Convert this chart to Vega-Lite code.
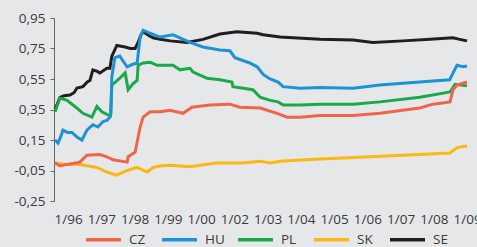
{
  "$schema": "https://vega.github.io/schema/vega-lite/v6.json",
  "autosize": {"type": "none"},
  "padding": {"left": 54, "top": 18, "right": 9, "bottom": 46},
  "width": 414,
  "height": 183,
  "background": "#e6e7e8",
  "config": {"view": {"stroke": null}, "font": "Open Sans"},
  "datasets": {
    "series": [
      {"s":"SE","t":0.03,"v":0.35},{"s":"SE","t":0.18,"v":0.43},{"s":"SE","t":0.3,"v":0.44},{"s":"SE","t":0.48,"v":0.445},{"s":"SE","t":0.6,"v":0.46},{"s":"SE","t":0.69,"v":0.49},{"s":"SE","t":0.87,"v":0.5},{"s":"SE","t":1.0,"v":0.53},{"s":"SE","t":1.08,"v":0.54},{"s":"SE","t":1.17,"v":0.61},{"s":"SE","t":1.3,"v":0.6},{"s":"SE","t":1.38,"v":0.59},{"s":"SE","t":1.59,"v":0.62},{"s":"SE","t":1.68,"v":0.62},{"s":"SE","t":1.74,"v":0.7},{"s":"SE","t":1.89,"v":0.77},{"s":"SE","t":2.14,"v":0.76},{"s":"SE","t":2.29,"v":0.75},{"s":"SE","t":2.44,"v":0.75},{"s":"SE","t":2.53,"v":0.79},{"s":"SE","t":2.62,"v":0.84},{"s":"SE","t":2.68,"v":0.86},{"s":"SE","t":2.89,"v":0.83},{"s":"SE","t":2.98,"v":0.82},{"s":"SE","t":3.19,"v":0.81},{"s":"SE","t":3.5,"v":0.8},{"s":"SE","t":4.0,"v":0.79},{"s":"SE","t":4.48,"v":0.81},{"s":"SE","t":4.99,"v":0.845},{"s":"SE","t":5.5,"v":0.86},{"s":"SE","t":6.11,"v":0.85},{"s":"SE","t":6.29,"v":0.84},{"s":"SE","t":6.8,"v":0.825},{"s":"SE","t":7.19,"v":0.82},{"s":"SE","t":8.0,"v":0.81},{"s":"SE","t":9.0,"v":0.805},{"s":"SE","t":9.59,"v":0.79},{"s":"SE","t":10.5,"v":0.8},{"s":"SE","t":11.31,"v":0.81},{"s":"SE","t":12.0,"v":0.82},{"s":"SE","t":12.2,"v":0.81},{"s":"SE","t":12.42,"v":0.8},
      {"s":"SK","t":0.03,"v":0.0},{"s":"SK","t":0.39,"v":-0.01},{"s":"SK","t":0.78,"v":-0.01},{"s":"SK","t":1.29,"v":-0.03},{"s":"SK","t":1.59,"v":-0.06},{"s":"SK","t":1.89,"v":-0.08},{"s":"SK","t":2.2,"v":-0.05},{"s":"SK","t":2.5,"v":-0.03},{"s":"SK","t":2.8,"v":-0.06},{"s":"SK","t":2.98,"v":-0.03},{"s":"SK","t":3.19,"v":-0.02},{"s":"SK","t":3.49,"v":-0.015},{"s":"SK","t":4.09,"v":-0.025},{"s":"SK","t":4.9,"v":0.0},{"s":"SK","t":5.68,"v":0.0},{"s":"SK","t":6.2,"v":0.01},{"s":"SK","t":6.5,"v":0.0},{"s":"SK","t":6.8,"v":0.01},{"s":"SK","t":8.0,"v":0.025},{"s":"SK","t":9.5,"v":0.04},{"s":"SK","t":11.0,"v":0.055},{"s":"SK","t":11.91,"v":0.065},{"s":"SK","t":12.12,"v":0.1},{"s":"SK","t":12.42,"v":0.11},
      {"s":"PL","t":0.03,"v":0.335},{"s":"PL","t":0.18,"v":0.425},{"s":"PL","t":0.39,"v":0.41},{"s":"PL","t":0.63,"v":0.37},{"s":"PL","t":0.87,"v":0.325},{"s":"PL","t":1.14,"v":0.3},{"s":"PL","t":1.29,"v":0.37},{"s":"PL","t":1.44,"v":0.335},{"s":"PL","t":1.62,"v":0.315},{"s":"PL","t":1.7,"v":0.31},{"s":"PL","t":1.74,"v":0.51},{"s":"PL","t":1.98,"v":0.555},{"s":"PL","t":2.14,"v":0.59},{"s":"PL","t":2.23,"v":0.48},{"s":"PL","t":2.38,"v":0.52},{"s":"PL","t":2.5,"v":0.54},{"s":"PL","t":2.53,"v":0.64},{"s":"PL","t":2.68,"v":0.655},{"s":"PL","t":2.89,"v":0.66},{"s":"PL","t":3.1,"v":0.64},{"s":"PL","t":3.58,"v":0.64},{"s":"PL","t":3.79,"v":0.61},{"s":"PL","t":4.09,"v":0.62},{"s":"PL","t":4.18,"v":0.595},{"s":"PL","t":4.6,"v":0.555},{"s":"PL","t":4.99,"v":0.545},{"s":"PL","t":5.35,"v":0.53},{"s":"PL","t":5.38,"v":0.5},{"s":"PL","t":5.98,"v":0.48},{"s":"PL","t":6.2,"v":0.43},{"s":"PL","t":6.5,"v":0.41},{"s":"PL","t":6.74,"v":0.4},{"s":"PL","t":6.89,"v":0.38},{"s":"PL","t":7.4,"v":0.38},{"s":"PL","t":8.0,"v":0.385},{"s":"PL","t":9.0,"v":0.385},{"s":"PL","t":9.8,"v":0.4},{"s":"PL","t":11.0,"v":0.43},{"s":"PL","t":11.91,"v":0.465},{"s":"PL","t":12.06,"v":0.515},{"s":"PL","t":12.42,"v":0.505},
      {"s":"CZ","t":0.03,"v":0.0},{"s":"CZ","t":0.18,"v":-0.02},{"s":"CZ","t":0.39,"v":-0.01},{"s":"CZ","t":0.78,"v":0.005},{"s":"CZ","t":0.99,"v":0.05},{"s":"CZ","t":1.38,"v":0.055},{"s":"CZ","t":1.59,"v":0.04},{"s":"CZ","t":1.77,"v":0.02},{"s":"CZ","t":2.2,"v":0.005},{"s":"CZ","t":2.23,"v":0.04},{"s":"CZ","t":2.44,"v":0.07},{"s":"CZ","t":2.59,"v":0.235},{"s":"CZ","t":2.68,"v":0.3},{"s":"CZ","t":2.89,"v":0.335},{"s":"CZ","t":3.19,"v":0.335},{"s":"CZ","t":3.49,"v":0.345},{"s":"CZ","t":3.88,"v":0.325},{"s":"CZ","t":4.15,"v":0.365},{"s":"CZ","t":4.69,"v":0.38},{"s":"CZ","t":5.29,"v":0.385},{"s":"CZ","t":5.59,"v":0.365},{"s":"CZ","t":6.2,"v":0.36},{"s":"CZ","t":6.71,"v":0.325},{"s":"CZ","t":7.01,"v":0.3},{"s":"CZ","t":7.4,"v":0.3},{"s":"CZ","t":8.0,"v":0.31},{"s":"CZ","t":9.0,"v":0.31},{"s":"CZ","t":9.8,"v":0.325},{"s":"CZ","t":11.0,"v":0.36},{"s":"CZ","t":11.4,"v":0.385},{"s":"CZ","t":11.91,"v":0.4},{"s":"CZ","t":12.0,"v":0.48},{"s":"CZ","t":12.12,"v":0.51},{"s":"CZ","t":12.42,"v":0.53},
      {"s":"HU","t":0.03,"v":0.15},{"s":"HU","t":0.12,"v":0.13},{"s":"HU","t":0.2,"v":0.17},{"s":"HU","t":0.27,"v":0.215},{"s":"HU","t":0.4,"v":0.2},{"s":"HU","t":0.54,"v":0.2},{"s":"HU","t":0.69,"v":0.17},{"s":"HU","t":0.84,"v":0.15},{"s":"HU","t":0.99,"v":0.215},{"s":"HU","t":1.17,"v":0.25},{"s":"HU","t":1.32,"v":0.235},{"s":"HU","t":1.47,"v":0.27},{"s":"HU","t":1.6,"v":0.28},{"s":"HU","t":1.68,"v":0.3},{"s":"HU","t":1.71,"v":0.32},{"s":"HU","t":1.74,"v":0.565},{"s":"HU","t":1.83,"v":0.69},{"s":"HU","t":1.98,"v":0.7},{"s":"HU","t":2.1,"v":0.66},{"s":"HU","t":2.2,"v":0.63},{"s":"HU","t":2.35,"v":0.645},{"s":"HU","t":2.5,"v":0.655},{"s":"HU","t":2.59,"v":0.825},{"s":"HU","t":2.68,"v":0.87},{"s":"HU","t":2.89,"v":0.85},{"s":"HU","t":3.19,"v":0.825},{"s":"HU","t":3.58,"v":0.84},{"s":"HU","t":4.09,"v":0.79},{"s":"HU","t":4.48,"v":0.76},{"s":"HU","t":4.99,"v":0.74},{"s":"HU","t":5.29,"v":0.735},{"s":"HU","t":5.44,"v":0.69},{"s":"HU","t":5.89,"v":0.655},{"s":"HU","t":6.11,"v":0.63},{"s":"HU","t":6.29,"v":0.58},{"s":"HU","t":6.5,"v":0.55},{"s":"HU","t":6.74,"v":0.53},{"s":"HU","t":6.89,"v":0.5},{"s":"HU","t":7.4,"v":0.49},{"s":"HU","t":8.0,"v":0.495},{"s":"HU","t":9.0,"v":0.49},{"s":"HU","t":9.8,"v":0.51},{"s":"HU","t":11.0,"v":0.53},{"s":"HU","t":11.9,"v":0.545},{"s":"HU","t":12.0,"v":0.59},{"s":"HU","t":12.12,"v":0.64},{"s":"HU","t":12.3,"v":0.63},{"s":"HU","t":12.42,"v":0.635}
    ]
  },
  "encoding": {
    "x": {"field": "t", "type": "quantitative", "scale": {"domain": [0, 12.45], "nice": false, "zero": false},
      "axis": {"title": null, "values": [0,1,2,3,4,5,6,7,8,9,10,11,12], "domain": false, "ticks": false, "grid": false, "labelAlign": "left", "labelPadding": 11, "labelFontSize": 13.5, "labelColor": "#3a3a3a", "labelOverlap": false, "labelBound": false, "labelFlush": false,
        "labelExpr": "['1/96','1/97','1/98','1/99','1/00','1/02','1/03','1/04','1/05','1/06','1/07','1/08','1/09'][datum.value]"}},
    "y": {"field": "v", "type": "quantitative", "scale": {"domain": [-0.25, 0.95], "nice": false, "zero": false},
      "axis": {"title": null, "values": [-0.25,-0.05,0.15,0.35,0.55,0.75,0.95], "grid": false, "domainColor": "#666666", "tickColor": "#666666", "tickSize": 4, "labelPadding": 5, "labelFontSize": 13.5, "labelColor": "#3a3a3a",
        "labelExpr": "(datum.value < 0 ? '-' : '') + replace(format(abs(datum.value), '.2f'), '.', ',')"}},
    "color": {"field": "s", "type": "nominal",
      "scale": {"domain": ["CZ","HU","PL","SK","SE"], "range": ["#f0654a","#1b93d5","#19a94b","#fbb714","#221e1f"]},
      "legend": {"title": null, "orient": "none", "direction": "horizontal", "columns": 5, "gridAlign": "all", "columnPadding": 6, "legendX": 30, "legendY": 202, "padding": 0, "symbolType": "stroke", "symbolSize": 1225, "symbolStrokeWidth": 3.5, "labelFontSize": 13.5, "labelBaseline": "middle", "labelColor": "#3a3a3a", "labelOffset": 6}}
  },
  "layer": [
    {"mark": {"type": "rule", "color": "#7a7a7a", "strokeWidth": 1.5}, "encoding": {"y": {"datum": 0}, "x": {"datum": 0}, "x2": {"datum": 12.42}, "color": {"value": "#7a7a7a"}}},
    {"data": {"name": "series"}, "transform": [{"filter": "datum.s === 'SE'"}], "mark": {"type": "line", "strokeWidth": 3}},
    {"data": {"name": "series"}, "transform": [{"filter": "datum.s === 'SK'"}], "mark": {"type": "line", "strokeWidth": 3}},
    {"data": {"name": "series"}, "transform": [{"filter": "datum.s === 'PL'"}], "mark": {"type": "line", "strokeWidth": 3}},
    {"data": {"name": "series"}, "transform": [{"filter": "datum.s === 'CZ'"}], "mark": {"type": "line", "strokeWidth": 3}},
    {"data": {"name": "series"}, "transform": [{"filter": "datum.s === 'HU'"}], "mark": {"type": "line", "strokeWidth": 3}}
  ]
}
